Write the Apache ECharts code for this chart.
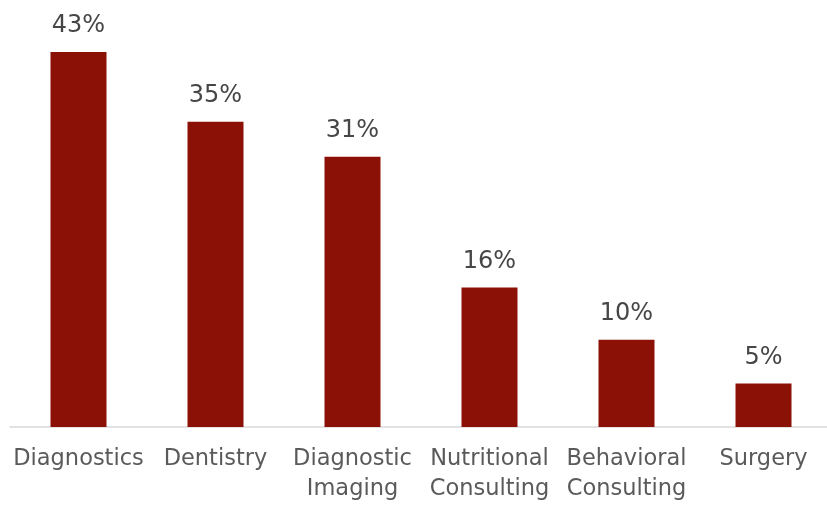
<!DOCTYPE html>
<html>
<head>
<meta charset="utf-8">
<script src="https://cdn.jsdelivr.net/npm/echarts@6/dist/echarts.min.js"></script>
<style>
  html, body { margin: 0; padding: 0; background: #ffffff; overflow: hidden; }
  #chart { width: 832px; height: 505px; }
</style>
</head>
<body>
<div id="chart"></div>
<script>
// Share of services (percent)
const categories = ['Diagnostics', 'Dentistry', 'Diagnostic\nImaging', 'Nutritional\nConsulting', 'Behavioral\nConsulting', 'Surgery'];
const shares = [43, 35, 31, 16, 10, 5];

const chart = echarts.init(document.getElementById('chart'), null, { renderer: 'canvas' });
const font = 'DejaVu Sans';

chart.setOption({
  animation: false,
  grid: { left: 10, right: 0, top: 52, bottom: 78, containLabel: false },
  xAxis: {
    type: 'category',
    data: categories,
    axisLine: { lineStyle: { color: '#d9d9d9', width: 1.5 } },
    axisTick: { show: false },
    axisLabel: {
      color: '#5a5a5a',
      fontFamily: font,
      fontSize: 22.5,
      lineHeight: 30,
      margin: 17,
      interval: 0
    }
  },
  yAxis: {
    type: 'value',
    min: 0,
    max: 43,
    show: false,
    splitLine: { show: false }
  },
  series: [{
    type: 'bar',
    data: shares,
    barWidth: 56,
    itemStyle: { color: '#8b1005' },
    label: {
      show: true,
      position: 'top',
      distance: 14,
      color: '#464646',
      fontFamily: font,
      fontSize: 24,
      formatter: p => p.value + '%'
    }
  }]
});
</script>
</body>
</html>
